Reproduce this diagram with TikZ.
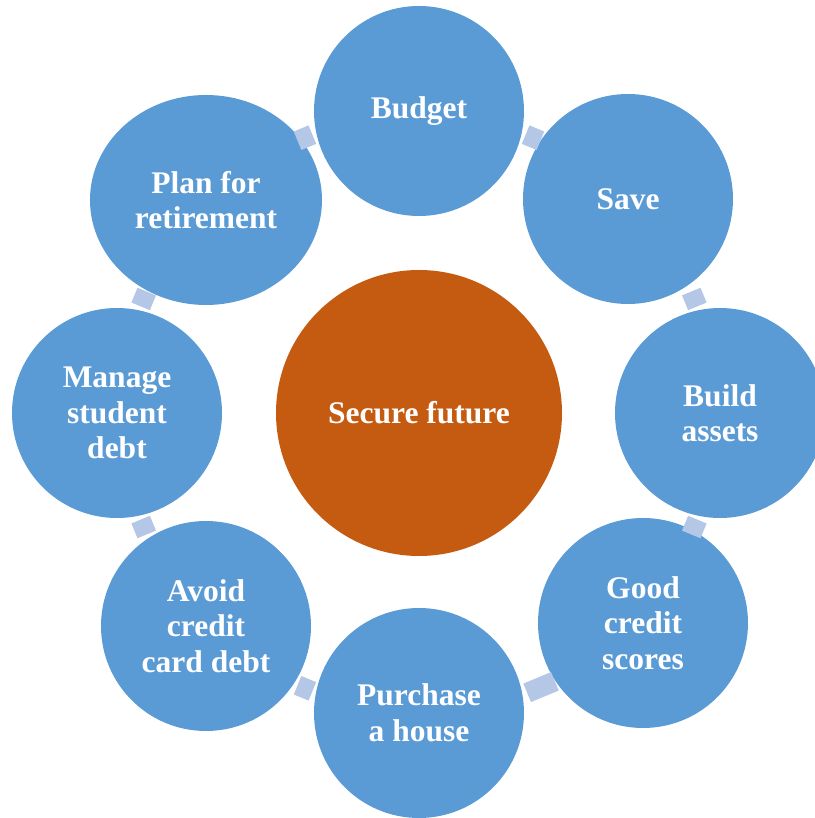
\documentclass[tikz,border=0pt]{standalone}
\usepackage{fontspec}
\setmainfont{Liberation Serif}
\usepackage{tikz}
\usetikzlibrary{positioning, shapes.geometric}

\definecolor{stepblue}{HTML}{5B9BD5}
\definecolor{hubred}{HTML}{C55A11}
\definecolor{linkblue}{HTML}{B4C7E7}

\begin{document}
\begin{tikzpicture}[x=1pt, y=1pt,
     stepnode/.style={circle, fill=stepblue, draw=none, minimum size=210pt, inner sep=0pt,
       align=center, text=white, font=\fontsize{31.5}{35.5}\selectfont\bfseries},
     hubnode/.style={stepnode, fill=hubred, minimum size=286pt},
     link/.style={rectangle, fill=linkblue, draw=none, minimum width=16pt,
       minimum height=20pt, inner sep=0pt}]

  \useasboundingbox (-419,-405) rectangle (395,413);

  % centre
  \node[hubnode] (hub) at (0,0) {Secure future};

  % the eight steps round it
  \node[stepnode] (budget)   at (0,302)     {Budget};
  \node[stepnode] (save)     at (209,214)   {Save};
  \node[stepnode] (assets)   at (301,0)     {Build\\assets};
  \node[stepnode] (credit)   at (224,-210)  {Good\\credit\\scores};
  \node[stepnode] (house)    at (0,-300)    {Purchase\\a house};
  \node[stepnode] (card)     at (-213,-213) {Avoid\\credit\\card debt};
  \node[stepnode] (student)  at (-302,0)    {Manage\\student\\debt};
  \node[stepnode, ellipse, minimum width=232pt, minimum height=210pt] (retire) at (-213,213) {Plan for\\retirement};

  % small links in the gaps
  \node[link, rotate=-22.5] (l1) at (67.5:298pt)  {};
  \node[link, rotate=-67.5] (l2) at (22.5:298pt)  {};
  \node[link, rotate=-112.5] (l3) at (-22.5:298pt) {};
  \node[link, rotate=-157.5, minimum width=30pt] (l4) at (-66:300pt) {};
  \node[link, rotate=157.5] (l5) at (-112.5:298pt) {};
  \node[link, rotate=112.5] (l6) at (-157.5:298pt) {};
  \node[link, rotate=67.5] (l7) at (157.5:298pt) {};
  \node[link, rotate=22.5] (l8) at (112.5:298pt) {};
\end{tikzpicture}
\end{document}
